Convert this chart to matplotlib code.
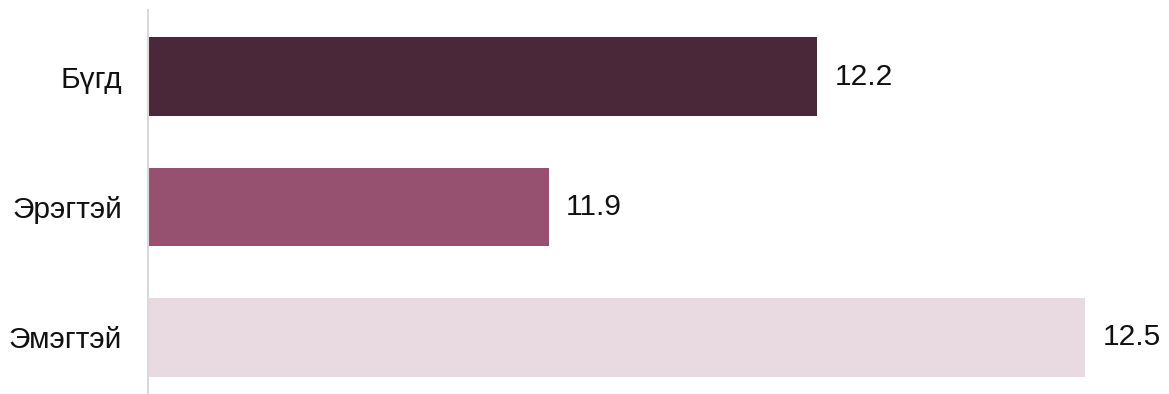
import matplotlib.pyplot as plt

plt.rcParams['font.family'] = ['Liberation Sans', 'DejaVu Sans']

categories = ['Бүгд', 'Эрэгтэй', 'Эмэгтэй']
values = [12.2, 11.9, 12.5]
colors = ['#4b2839', '#965170', '#e9d9e1']


def main():
    fig = plt.figure(figsize=(11.69, 3.94), dpi=100)
    ax = fig.add_axes([148 / 1169, 0, 1 - 148 / 1169, 384 / 394])

    pos = list(range(len(categories)))
    ax.barh(pos, values, height=0.605, color=colors)

    ax.set_xlim(11.4525, 12.5933)
    ax.set_ylim(2.433, -0.5096)

    # value labels just past the bar ends
    for p, v in zip(pos, values):
        ax.annotate(f"{v:.1f}", (v, p), xytext=(12.5, 0), textcoords='offset points',
                    ha='left', va='center', fontsize=21.5, color='#111111')

    ax.set_yticks(pos)
    ax.set_yticklabels(categories, fontsize=21.5, color='#111111')
    ax.tick_params(axis='y', length=0, pad=18.5)
    ax.set_xticks([])

    for side in ['top', 'right', 'bottom']:
        ax.spines[side].set_visible(False)
    ax.spines['left'].set_color('#d9d9d9')
    ax.spines['left'].set_linewidth(1.5)

    fig.savefig('out.png', dpi=100)


if __name__ == '__main__':
    main()
